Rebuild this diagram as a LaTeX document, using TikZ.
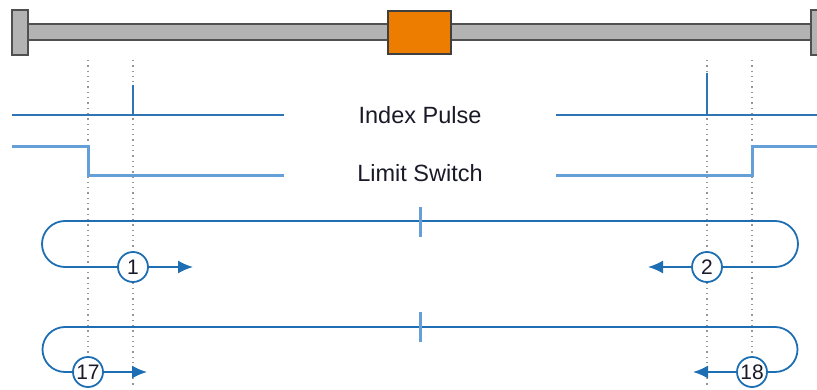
\documentclass[tikz,border=0pt]{standalone}
\usepackage{fontspec}
\setmainfont{Liberation Sans}
\usetikzlibrary{arrows.meta}
\definecolor{railgray}{RGB}{179,179,179}
\definecolor{raildark}{RGB}{80,80,80}
\definecolor{blockor}{RGB}{237,125,0}
\definecolor{sigblue}{RGB}{46,117,182}
\definecolor{siglight}{RGB}{100,160,215}
\definecolor{loopblue}{RGB}{30,110,180}
\definecolor{dotgray}{RGB}{150,150,150}
\definecolor{txtdark}{RGB}{25,25,40}
\tikzset{
  railpart/.style={draw=raildark,fill=railgray,line width=1.4pt},
  blockpart/.style={draw=raildark!80!black,fill=blockor,line width=1.4pt},
  guide/.style={draw=dotgray,line width=1.3pt,dash pattern=on 1.3pt off 4pt},
  indexsig/.style={draw=sigblue,line width=2.3pt},
  limitsig/.style={draw=siglight,line width=3pt},
  tickmark/.style={draw=siglight,line width=3pt},
  loopline/.style={draw=loopblue,line width=1.8pt},
  looparrow/.style={draw=loopblue,line width=1.8pt,-{Latex[length=15pt,width=13pt]}},
  numcirc/.style={circle,draw=loopblue,fill=white,line width=1.8pt,minimum size=30pt,inner sep=0pt,text=txtdark,font=\fontsize{21}{24}\selectfont},
  label/.style={font=\fontsize{23.5}{27}\selectfont,inner sep=0pt,text=txtdark}
}
\begin{document}
\begin{tikzpicture}[x=1pt,y=1pt]
\useasboundingbox (0,0) rectangle (817,-390);
\clip (0,0) rectangle (817,-390);
% rail
\draw[railpart] (28,-24) rectangle (811,-40);
\draw[railpart] (12,-10) rectangle (28,-55);
\draw[railpart] (811,-10) rectangle (827,-55);
\draw[blockpart] (388,-11) rectangle (451,-54);
% guides
\coordinate (g1t) at (88,-60);  \coordinate (g1b) at (88,-385);
\coordinate (g2t) at (133,-60); \coordinate (g2b) at (133,-385);
\coordinate (g3t) at (707,-60); \coordinate (g3b) at (707,-385);
\coordinate (g4t) at (752,-60); \coordinate (g4b) at (752,-385);
\draw[guide] (g1t) -- (g1b);
\draw[guide] (g2t) -- (g2b);
\draw[guide] (g3t) -- (g3b);
\draw[guide] (g4t) -- (g4b);
% labels
\node[label] (ip) at (420,-115) {Index Pulse};
\node[label] (ls) at (420,-173) {Limit Switch};
% index pulse
\draw[indexsig] (12,-115) -- (284,-115);
\draw[indexsig] (133,-85) -- (133,-115);
\draw[indexsig] (556,-115) -- (817,-115);
\draw[indexsig] (707,-73) -- (707,-115);
% limit switch
\draw[limitsig] (12,-147) -- (88,-147) -- (88,-176) -- (284,-176);
\draw[limitsig] (556,-176) -- (752,-176) -- (752,-147) -- (817,-147);
% loop 1
\node[numcirc] (c1) at (133,-267) {1};
\node[numcirc] (c2) at (707,-267) {2};
\coordinate (a1) at (193,-267);
\coordinate (a2) at (648,-267);
\draw[loopline] (c1.west) -- (65,-267) arc[start angle=270,end angle=90,radius=23pt]
  -- (775,-221) arc[start angle=90,end angle=-90,radius=23pt] -- (c2.east);
\draw[looparrow] (c1.east) -- (a1);
\draw[looparrow] (c2.west) -- (a2);
\draw[tickmark] (420,-207) -- (420,-237);
% loop 2
\node[numcirc] (c17) at (88,-372) {17};
\node[numcirc] (c18) at (752,-372) {18};
\coordinate (a17) at (147,-372);
\coordinate (a18) at (693,-372);
\draw[loopline] (c17.west) -- (65,-372) arc[start angle=270,end angle=90,radius=22.5pt]
  -- (775,-327) arc[start angle=90,end angle=-90,radius=22.5pt] -- (c18.east);
\draw[looparrow] (c17.east) -- (a17);
\draw[looparrow] (c18.west) -- (a18);
\draw[tickmark] (420,-312) -- (420,-342);
\end{tikzpicture}
\end{document}
